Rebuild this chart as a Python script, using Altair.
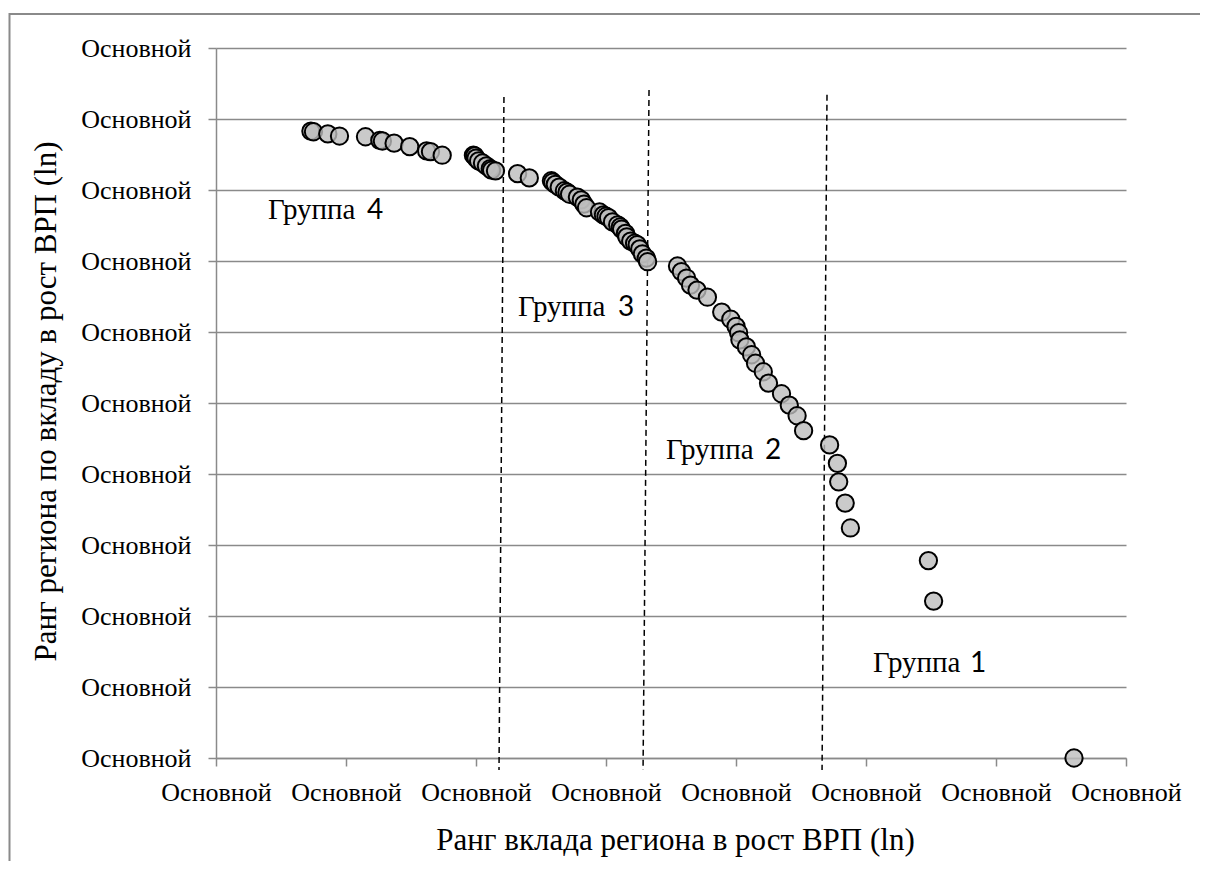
import altair as alt
import pandas as pd

# ---- data (x: axis units 0..7, y: axis units 0..10) ----
x_vals = [0.73, 0.75, 0.86, 0.95, 1.15, 1.26, 1.28, 1.37, 1.49, 1.62, 1.65, 1.74,
          1.98, 1.99, 2.00, 2.02, 2.05, 2.08, 2.11, 2.12, 2.15,
          2.32, 2.41, 2.58, 2.59, 2.61, 2.64, 2.68, 2.70, 2.72, 2.78, 2.81, 2.83, 2.85,
          2.95, 2.98, 3.00, 3.02, 3.05, 3.09, 3.11, 3.12, 3.15, 3.16, 3.19, 3.22, 3.24,
          3.26, 3.28, 3.31, 3.32,
          3.55, 3.58, 3.62, 3.65, 3.70, 3.78, 3.89, 3.96, 4.00, 4.02, 4.03, 4.08, 4.12,
          4.15, 4.21, 4.25, 4.35, 4.41, 4.47, 4.52,
          4.72, 4.78, 4.79, 4.84, 4.88, 5.48, 5.52, 6.60]
y_vals = [8.83, 8.82, 8.79, 8.76, 8.75, 8.70, 8.69, 8.66, 8.61, 8.55, 8.54, 8.49,
          8.49, 8.48, 8.45, 8.41, 8.38, 8.34, 8.30, 8.28, 8.27,
          8.23, 8.17, 8.13, 8.11, 8.08, 8.04, 7.99, 7.97, 7.94, 7.90, 7.86, 7.80, 7.75,
          7.69, 7.65, 7.63, 7.61, 7.55, 7.51, 7.48, 7.45, 7.39, 7.34, 7.28, 7.25, 7.23,
          7.17, 7.10, 7.04, 6.99,
          6.93, 6.85, 6.76, 6.66, 6.59, 6.49, 6.28, 6.18, 6.08, 5.99, 5.89, 5.79, 5.68,
          5.56, 5.44, 5.28, 5.13, 4.97, 4.82, 4.61,
          4.41, 4.15, 3.89, 3.59, 3.24, 2.78, 2.21, 0.00]

# dashed group separators (slightly slanted, top -> bottom)
sep_x_top = [2.215, 3.331, 4.70]
sep_x_bot = [2.177, 3.285, 4.662]
sep_y_top = [9.31, 9.41, 9.34]
sep_y_bot = [-0.17, -0.17, -0.17]

# group annotations
group_word = ["Группа", "Группа", "Группа", "Группа"]
group_num = ["4", "3", "2", "1"]
group_word_x = [0.40, 2.323, 3.462, 5.054]
group_num_x = [1.162, 3.092, 4.223, 5.80]
group_y = [7.592, 6.225, 4.211, 1.211]

x_ticks = [0, 1, 2, 3, 4, 5, 6, 7]
y_ticks = [0, 1, 2, 3, 4, 5, 6, 7, 8, 9, 10]
tick_text = "Основной"
x_title = "Ранг вклада региона в рост ВРП (ln)"
y_title = "Ранг региона по вкладу в рост ВРП (ln)"

GRAY = "#8a8a8a"
SERIF = "Liberation Serif"

pts = pd.DataFrame({"x": x_vals, "y": y_vals})
seps = pd.DataFrame({"xt": sep_x_top, "xb": sep_x_bot, "yt": sep_y_top, "yb": sep_y_bot})
groups = pd.DataFrame({"w": group_word, "n": group_num, "wx": group_word_x,
                       "nx": group_num_x, "gy": group_y})

xs = alt.Scale(domain=[0, 7], nice=False, zero=False)
ys = alt.Scale(domain=[0, 10], nice=False, zero=False)

x_axis = alt.Axis(values=x_ticks, labelExpr=f"'{tick_text}'", grid=False,
                  tickSize=8, labelPadding=13, title=x_title,
                  titleX=459, titleY=91, titleBaseline="alphabetic",
                  titleFontSize=31, titleFontWeight="normal", titleFont=SERIF)
y_axis = alt.Axis(values=y_ticks, labelExpr=f"'{tick_text}'", grid=True,
                  tickSize=8, labelPadding=17, title=y_title,
                  titleX=-161, titleY=353, titleAngle=270, titleBaseline="alphabetic",
                  titleFontSize=31, titleFontWeight="normal", titleFont=SERIF)

points = alt.Chart(pts).mark_circle(
    size=300, color="#bdbdbd", fillOpacity=0.8, stroke="black", strokeWidth=2
).encode(
    x=alt.X("x:Q", scale=xs, axis=x_axis),
    y=alt.Y("y:Q", scale=ys, axis=y_axis),
)

rules = alt.Chart(seps).mark_rule(
    color="black", strokeWidth=1.5, strokeDash=[6, 4]
).encode(
    x=alt.X("xt:Q", scale=xs), x2="xb:Q",
    y=alt.Y("yt:Q", scale=ys), y2="yb:Q",
)

words = alt.Chart(groups).mark_text(
    align="left", baseline="alphabetic", font=SERIF, fontSize=29, color="black"
).encode(
    x=alt.X("wx:Q", scale=xs), y=alt.Y("gy:Q", scale=ys), text="w:N"
)

nums = alt.Chart(groups).mark_text(
    align="left", baseline="alphabetic", font="Lato", fontSize=28, color="black"
).encode(
    x=alt.X("nx:Q", scale=xs), y=alt.Y("gy:Q", scale=ys), text="n:N"
)

# outer chart border (only its top and left edges fall inside the picture)
frame_top = alt.Chart(pd.DataFrame({"a": [0]})).mark_rule(
    color=GRAY, strokeWidth=2, strokeCap="butt"
).encode(x=alt.value(-207), x2=alt.value(984), y=alt.value(-34))
frame_left = alt.Chart(pd.DataFrame({"a": [0]})).mark_rule(
    color=GRAY, strokeWidth=2, strokeCap="butt"
).encode(x=alt.value(-206.5), y=alt.value(-35), y2=alt.value(813))

chart = alt.layer(frame_top, frame_left, rules, points, words, nums).properties(
    width=910, height=710,
    autosize=alt.AutoSizeParams(type="none"),
    padding={"left": 208, "top": 40, "right": 74, "bottom": 103},
).configure_view(
    stroke=None
).configure_axis(
    labelFont=SERIF, labelFontSize=26, labelColor="black", titleColor="black",
    domainColor=GRAY, domainWidth=1.5, tickColor=GRAY, tickWidth=1.5,
    gridColor=GRAY, gridWidth=1.5, labelFlush=False, labelOverlap=False,
)

chart.save("out.html", embed_options={"renderer": "svg", "actions": False})
